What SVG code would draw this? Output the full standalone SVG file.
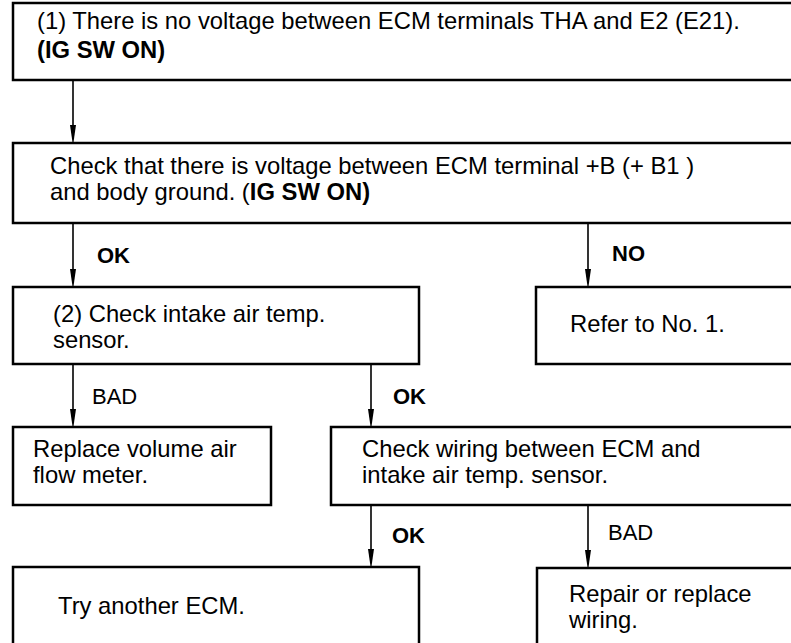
<svg xmlns="http://www.w3.org/2000/svg" width="791" height="643" viewBox="0 0 791 643">
<defs>
<style>
.box{fill:#fff;stroke:#000;stroke-width:2.5}
.t{font-family:"Liberation Sans",Arial,sans-serif;font-size:23.8px;fill:#000}
.b{font-weight:bold}
.lbl{font-family:"Liberation Sans",Arial,sans-serif;font-size:22px;fill:#000}
.c{stroke:#000;stroke-width:1.6;fill:none}
</style>
</defs>
<rect width="791" height="643" fill="#fff"/>
<g id="connectors">
<line class="c" x1="73" y1="80" x2="73" y2="126"/>
<path d="M70,125 L76,125 L73.4,143 L72.6,143 Z"/>
<line class="c" x1="73" y1="223" x2="73" y2="270"/>
<path d="M70,269 L76,269 L73.4,287 L72.6,287 Z"/>
<line class="c" x1="588" y1="223" x2="588" y2="270"/>
<path d="M585,269 L591,269 L588.4,287 L587.6,287 Z"/>
<line class="c" x1="73" y1="364" x2="73" y2="410"/>
<path d="M70,409 L76,409 L73.4,427 L72.6,427 Z"/>
<line class="c" x1="371" y1="364" x2="371" y2="410"/>
<path d="M368,409 L374,409 L371.4,427 L370.6,427 Z"/>
<line class="c" x1="371" y1="505" x2="371" y2="550"/>
<path d="M368,549 L374,549 L371.4,567 L370.6,567 Z"/>
<line class="c" x1="588" y1="505" x2="588" y2="551"/>
<path d="M585,550 L591,550 L588.4,568 L587.6,568 Z"/>
<text class="lbl b" x="97" y="263">OK</text>
<text class="lbl b" x="612" y="261">NO</text>
<text class="lbl" x="92" y="404">BAD</text>
<text class="lbl b" x="393" y="404">OK</text>
<text class="lbl b" x="392" y="543">OK</text>
<text class="lbl" x="608" y="540">BAD</text>
</g>
<g id="n1">
<rect class="box" x="13" y="3" width="790" height="77"/>
<text class="t" x="37" y="28.5">(1) There is no voltage between ECM terminals THA and E2 (E21).</text>
<text class="t b" x="37" y="58">(IG SW ON)</text>
</g>
<g id="n2">
<rect class="box" x="13" y="143" width="790" height="80"/>
<text class="t" x="50" y="174">Check that there is voltage between ECM terminal +B (+ B1 )</text>
<text class="t" x="50" y="200">and body ground. (<tspan class="b">IG SW ON)</tspan></text>
</g>
<g id="n3">
<rect class="box" x="13" y="287" width="406" height="77"/>
<text class="t" x="53" y="322">(2) Check intake air temp.</text>
<text class="t" x="53" y="348">sensor.</text>
</g>
<g id="n4">
<rect class="box" x="536" y="287" width="270" height="77"/>
<text class="t" x="570" y="332">Refer to No. 1.</text>
</g>
<g id="n5">
<rect class="box" x="13" y="427" width="258" height="78"/>
<text class="t" x="33" y="457">Replace volume air</text>
<text class="t" x="33" y="483">flow meter.</text>
</g>
<g id="n6">
<rect class="box" x="331" y="427" width="470" height="78"/>
<text class="t" x="362" y="457">Check wiring between ECM and</text>
<text class="t" x="362" y="483">intake air temp. sensor.</text>
</g>
<g id="n7">
<rect class="box" x="13" y="567" width="406" height="90"/>
<text class="t" x="58" y="614">Try another ECM.</text>
</g>
<g id="n8">
<rect class="box" x="537" y="568" width="270" height="90"/>
<text class="t" x="569" y="602">Repair or replace</text>
<text class="t" x="569" y="628">wiring.</text>
</g>
</svg>
